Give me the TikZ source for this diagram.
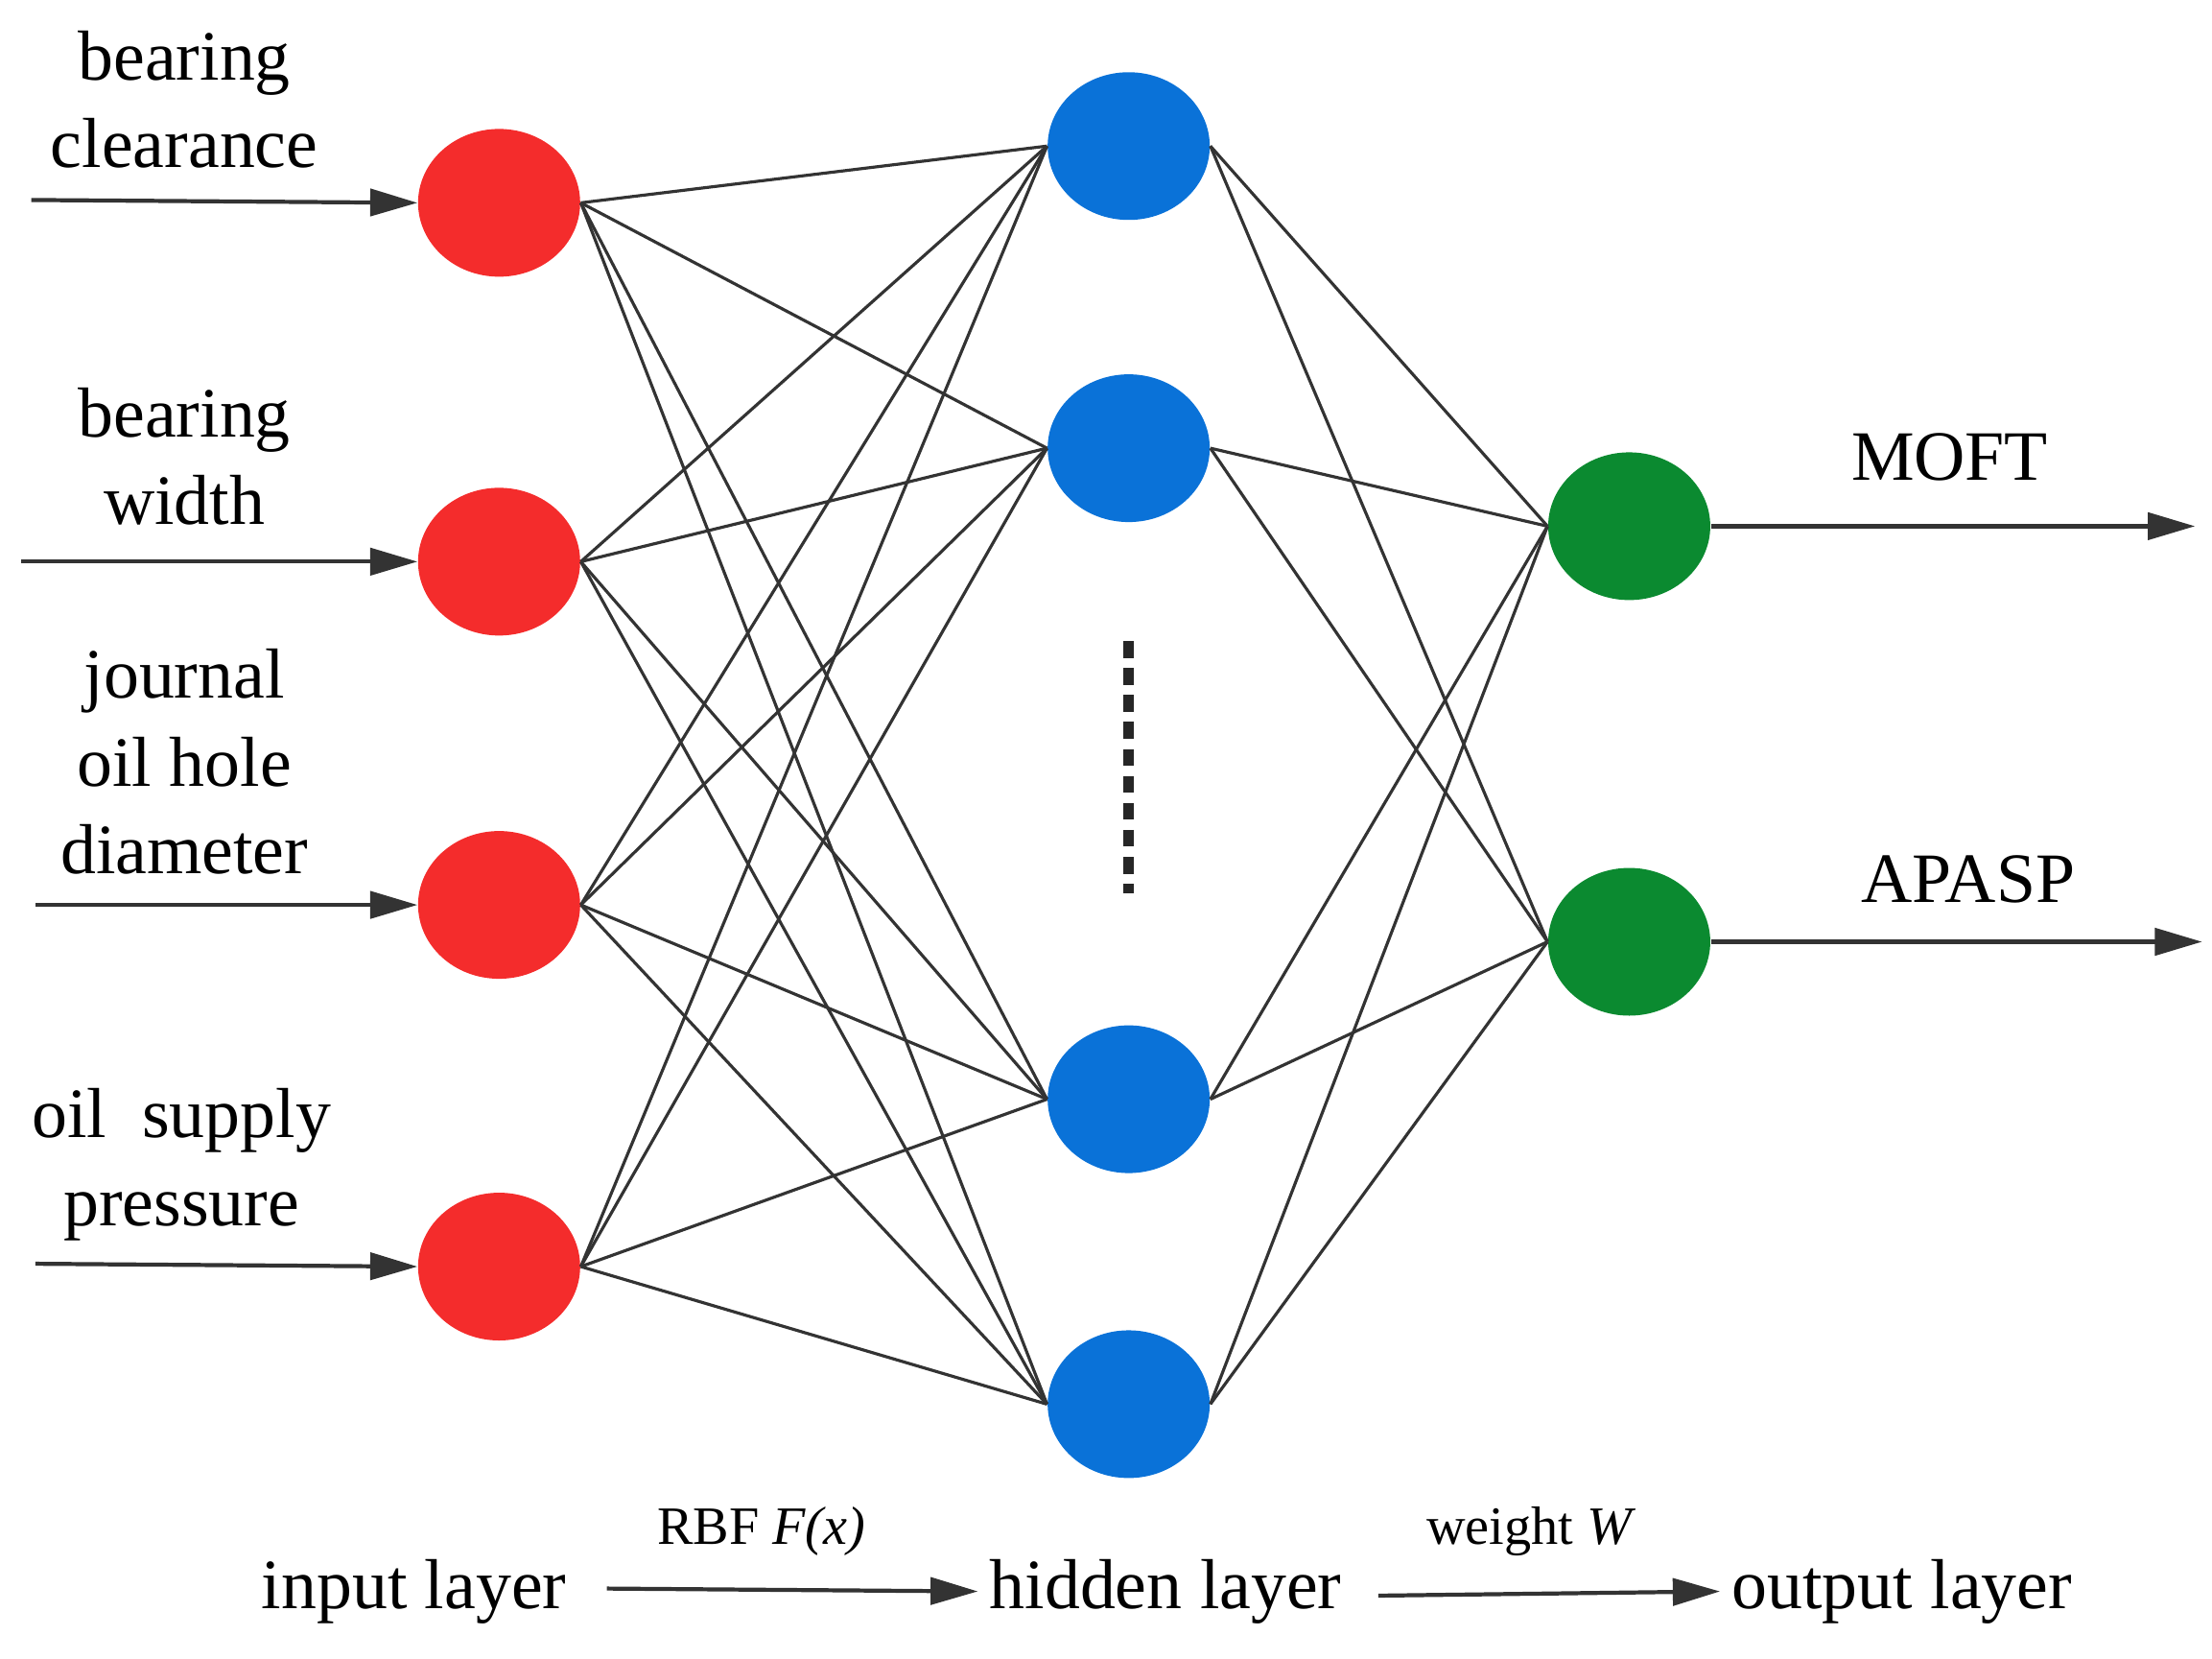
\documentclass[tikz,border=0pt]{standalone}
\usepackage{fontspec}
\setmainfont{Liberation Serif}
\usetikzlibrary{arrows.meta,shapes.geometric}
\definecolor{cr}{HTML}{F42C2C}
\definecolor{cb}{HTML}{0A72D8}
\definecolor{cg}{HTML}{0B8A30}
\begin{document}
\begin{tikzpicture}[x=0.01478cm,y=-0.01478cm,
  n/.style={shape=ellipse,minimum width=1.69cm,minimum height=1.54cm,inner sep=0pt,draw=none},
  con/.style={draw=black!80,line width=0.9pt},
  arr/.style={draw=black!80,line width=1.2pt,-{Triangle[length=14pt,width=8pt]}},
  lab/.style={font=\fontsize{21}{26}\selectfont,align=center},
  sml/.style={font=\fontsize{16}{19}\selectfont}]
\useasboundingbox (0,0) rectangle (1560,1169);
\foreach \nm/\y in {r1/143,r2/396,r3/638,r4/893}
  \node[n,fill=cr] (\nm) at (352,\y) {};
\foreach \nm/\y in {b1/103,b2/316,b3/775,b4/990}
  \node[n,fill=cb] (\nm) at (796,\y) {};
\foreach \nm/\y in {g1/371,g2/664}
  \node[n,fill=cg] (\nm) at (1149,\y) {};
\foreach \r in {r1,r2,r3,r4}
  \foreach \b in {b1,b2,b3,b4}
    \draw[con] (\r.east) -- (\b.west);
\foreach \b in {b1,b2,b3,b4}
  \foreach \g in {g1,g2}
    \draw[con] (\b.east) -- (\g.west);
\coordinate (d1) at (796,452); \coordinate (d2) at (796,630);
\draw[line width=3pt,dash pattern=on 5pt off 3pt,black!85] (d1) -- (d2);
\foreach \r/\x/\y in {r1/22/141,r2/15/396,r3/25/638,r4/25/891}{
  \coordinate (s\r) at (\x,\y);
  \draw[arr] (s\r) -- (\r.west);}
\coordinate (e1) at (1548,371); \coordinate (e2) at (1553,664);
\draw[arr] (g1.east) -- (e1);
\draw[arr] (g2.east) -- (e2);
\node[lab] (t1) at (130,70) {bearing\\clearance};
\node[lab] (t2) at (130,322) {bearing\\width};
\node[lab] (t3) at (130,537) {journal\\oil hole\\diameter};
\node[lab] (t4) at (128,821) {oil\ \ supply\\pressure};
\node[lab] (m1) at (1375,322) {MOFT};
\node[lab] (m2) at (1388,620) {APASP};
\node[lab] (il) at (292,1122) {input layer};
\node[lab] (hl) at (822,1122) {hidden layer};
\node[lab,anchor=west] (ol) at (1213,1122) {output layer};
\coordinate (a1) at (428,1120); \coordinate (a2) at (972,1125);
\draw[arr] (a1) -- (hl.west);
\draw[arr] (a2) -- (ol.west);
\node[sml] (rbf) at (537,1080) {RBF \textit{F(x)}};
\node[sml] (w) at (1080,1080) {weight \textit{W}};
\end{tikzpicture}
\end{document}
